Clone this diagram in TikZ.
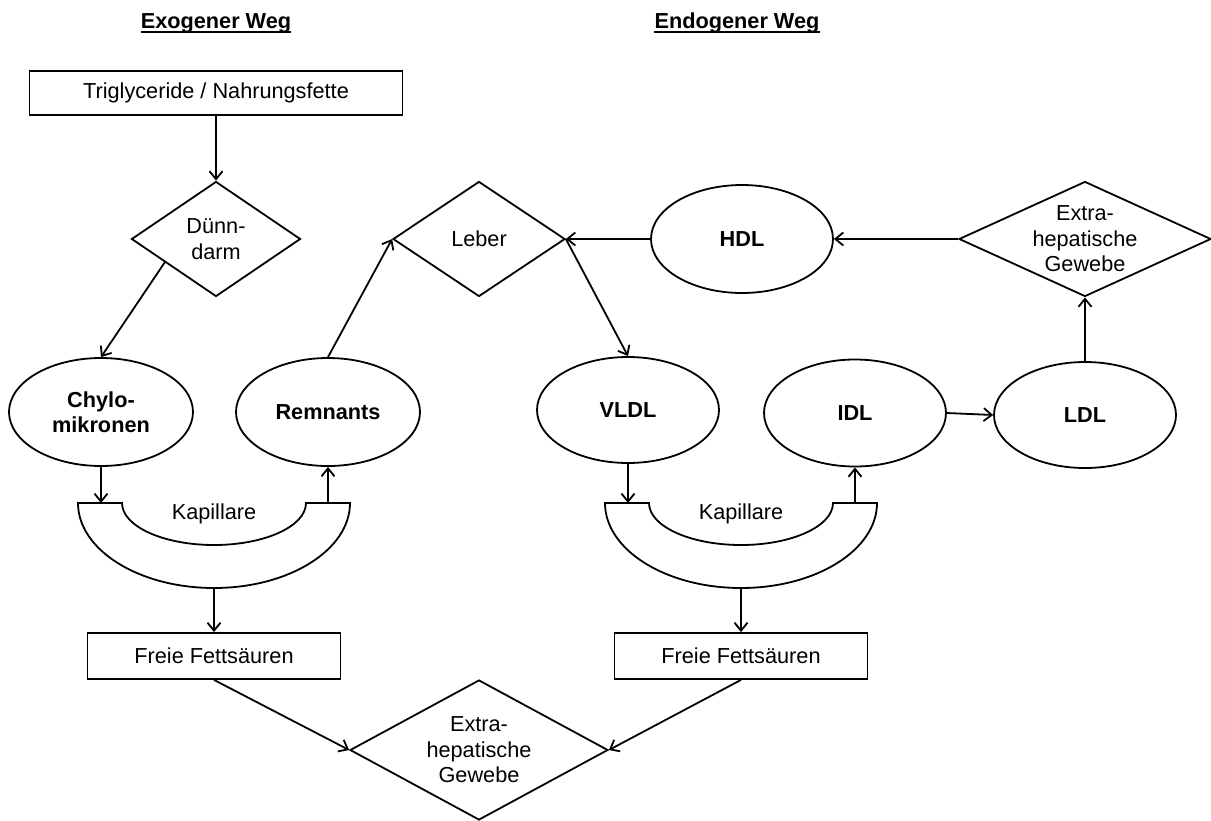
\documentclass[tikz,border=0pt]{standalone}
\usepackage{fontspec}
\setmainfont{Liberation Sans}
\usetikzlibrary{shapes.geometric,arrows.meta,calc}

\begin{document}
\begin{tikzpicture}[
    x=1pt, y=-1pt,
    every node/.style={font=\fontsize{21.7}{25.5}\selectfont},
    lw/.style={line width=1.8pt},
    txt/.style={align=center, inner sep=0pt},
    boxnode/.style={lw, draw, rectangle, inner sep=0pt},
    oval/.style={lw, draw, ellipse, inner sep=0pt, align=center, font=\fontsize{21.7}{25.5}\selectfont\bfseries},
    rhomb/.style={lw, draw, diamond, inner sep=0pt},
    arr/.style={lw, -{Straight Barb[length=8pt,width=13pt,line width=1.8pt]}},
    title/.style={inner sep=0pt, anchor=base, font=\fontsize{21.7}{25.5}\selectfont\bfseries},
    capillary/.pic={
      \draw[lw] (-136,0) -- (-92,0)
        .. controls (-92,23.2) and (-50.8,42) .. (0,42)
        .. controls (50.8,42) and (92,23.2) .. (92,0)
        -- (136,0)
        .. controls (136,46.9) and (75.1,85) .. (0,85)
        .. controls (-75.1,85) and (-136,46.9) .. (-136,0) -- cycle;
      \coordinate (-in) at (-113,0);
      \coordinate (-out) at (114,0);
      \coordinate (-bot) at (0,85);
      \node[txt] (-lbl) at (0,11) {Kapillare};
    }
  ]
  \useasboundingbox (0,0) rectangle (1211,820);

  % headings
  \node[title] (exo) at (216,28) {Exogener Weg};
  \node[title] (endo) at (737,28) {Endogener Weg};
  \draw[line width=1.8pt] ([yshift=-4pt]exo.base west) -- ([yshift=-4pt]exo.base east);
  \draw[line width=1.8pt] ([yshift=-4pt]endo.base west) -- ([yshift=-4pt]endo.base east);

  % exogenous pathway
  \node[boxnode, minimum width=373pt, minimum height=44pt] (trig) at (216,93) {Triglyceride / Nahrungsfette};
  \node[rhomb, minimum width=169pt, minimum height=115pt,
        label={[txt]center:Dünn-\\darm}] (dd) at (216,239) {};
  \node[oval, minimum width=184pt, minimum height=108pt] (chylo) at (101,412) {Chylo-\\mikronen};
  \node[oval, minimum width=184pt, minimum height=108pt] (remn) at (328,412) {Remnants};
  \pic (capL) at (214,503) {capillary};
  \node[boxnode, minimum width=253pt, minimum height=46pt] (ffL) at (214,656) {Freie Fettsäuren};

  % liver and endogenous pathway
  \node[rhomb, minimum width=172pt, minimum height=115pt,
        label={[txt]center:Leber}] (leber) at (479,239) {};
  \node[oval, minimum width=182pt, minimum height=108pt] (hdl) at (742,239) {HDL};
  \node[rhomb, minimum width=252pt, minimum height=115pt,
        label={[txt]center:Extra-\\hepatische\\Gewebe}] (extT) at (1085,239) {};
  \node[oval, minimum width=182pt, minimum height=106pt] (vldl) at (628,410) {VLDL};
  \node[oval, minimum width=182pt, minimum height=107pt] (idl) at (855,413) {IDL};
  \node[oval, minimum width=182pt, minimum height=106pt] (ldl) at (1085,415) {LDL};
  \pic (capR) at (741,503) {capillary};
  \node[boxnode, minimum width=253pt, minimum height=46pt] (ffR) at (741,656) {Freie Fettsäuren};

  % peripheral tissue
  \node[rhomb, minimum width=258pt, minimum height=140pt,
        label={[txt]center:Extra-\\hepatische\\Gewebe}] (extB) at (479,750) {};

  % connectors
  \draw[arr] (trig.south) -- (dd.north);
  \draw[arr] ($(dd.west)!0.4!(dd.south)$) -- (chylo.north);
  \draw[arr] (chylo) -- (capL-in);
  \draw[arr] (capL-out) -- (remn);
  \draw[arr] (remn.north) -- (leber.west);
  \draw[arr] (capL-bot) -- (ffL.north);
  \draw[arr] (ffL.south) -- (extB.west);

  \draw[arr] (leber.east) -- (vldl.north);
  \draw[arr] (hdl.west) -- (leber.east);
  \draw[arr] (extT.west) -- (hdl.east);
  \draw[arr] (vldl) -- (capR-in);
  \draw[arr] (capR-out) -- (idl);
  \draw[arr] (idl.east) -- (ldl.west);
  \draw[arr] (ldl.north) -- (extT.south);
  \draw[arr] (capR-bot) -- (ffR.north);
  \draw[arr] (ffR.south) -- (extB.east);
\end{tikzpicture}
\end{document}
